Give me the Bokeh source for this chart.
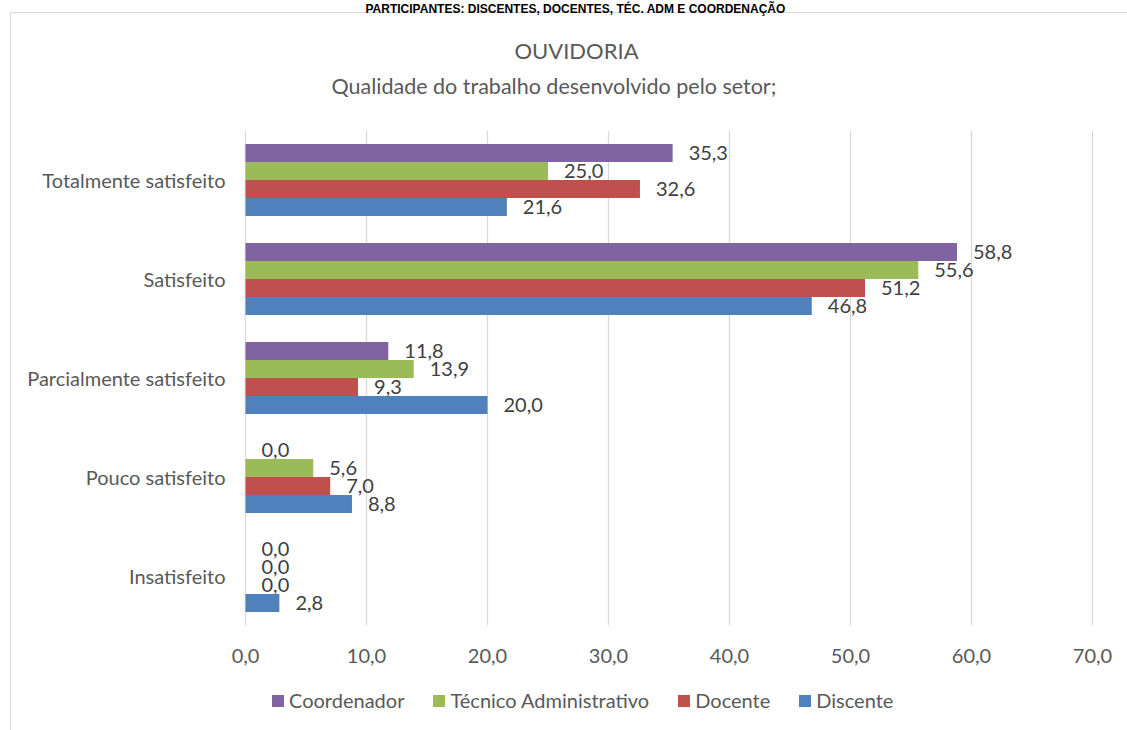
from bokeh.plotting import figure
from bokeh.models import (Range1d, Legend, LegendItem, Title, FixedTicker, ColumnDataSource)
from bokeh.core.properties import value
from bokeh.embed import file_html
from bokeh.resources import INLINE

# ---------------- data ----------------
categories = ["Totalmente satisfeito", "Satisfeito", "Parcialmente satisfeito",
              "Pouco satisfeito", "Insatisfeito"]
series = ["Coordenador", "Técnico Administrativo", "Docente", "Discente"]
coordenador = [35.3, 58.8, 11.8, 0.0, 0.0]
tecnico_adm = [25.0, 55.6, 13.9, 5.6, 0.0]
docente = [32.6, 51.2, 9.3, 7.0, 0.0]
discente = [21.6, 46.8, 20.0, 8.8, 2.8]
x_ticks = [0, 10, 20, 30, 40, 50, 60, 70]
x_tick_labels = ["0,0", "10,0", "20,0", "30,0", "40,0", "50,0", "60,0", "70,0"]
top_title = "PARTICIPANTES: DISCENTES, DOCENTES, TÉC. ADM E COORDENAÇÃO"
chart_title = "OUVIDORIA"
chart_subtitle = "Qualidade do trabalho desenvolvido pelo setor;"

# ---------------- style / layout ----------------
colors = ["#8064A2", "#9BBB59", "#C0504D", "#4F81BD"]
offsets = [0.2727, 0.0909, -0.0909, -0.2727]   # dodge of each series inside a group
bar_h = 0.1818
FONT = "Lato"
GRAY = "#595959"

W, H = 1127, 730
AXIS_LEFT = 245              # canvas px of x = 0
FL, FT = 228, 130            # frame left / top (canvas px)
PLOT_BOTTOM = 625            # where the category area ends (canvas px)
X_MAX = 70
PX_X = 847 / X_MAX           # px per x unit
n = len(categories)
PX_Y = (PLOT_BOTTOM - FT) / n
x_start = -(AXIS_LEFT - FL) / PX_X
x_end = (W - AXIS_LEFT) / PX_X
y_start = -(H - PLOT_BOTTOM) / PX_Y   # frame reaches the canvas bottom (room for legend)

p = figure(width=W, height=H,
           x_range=Range1d(x_start, x_end), y_range=Range1d(y_start, n),
           output_backend="svg", toolbar_location=None,
           min_border_left=FL, min_border_right=0,
           min_border_top=FT, min_border_bottom=0)
p.margin = (0, 0, 0, 0)
p.outline_line_color = None
p.background_fill_color = None
p.border_fill_color = None
p.styles = {"box-shadow": "inset 10px 12px 0 0 white, inset 11px 13px 0 0 #D9D9D9",
            "background-color": "white"}
p.xgrid.grid_line_color = None
p.ygrid.grid_line_color = None

cat_pos = [n - i - 0.5 for i in range(n)]

# x axis sits at the bottom of the category area
p.xaxis.fixed_location = 0
p.xaxis.ticker = FixedTicker(ticks=x_ticks)
p.xaxis.major_label_overrides = {t: l for t, l in zip(x_ticks, x_tick_labels)}
p.yaxis.ticker = FixedTicker(ticks=cat_pos)
p.yaxis.major_label_overrides = {c: name for c, name in zip(cat_pos, categories)}
for ax in (p.xaxis[0], p.yaxis[0]):
    ax.axis_line_color = None
    ax.major_tick_line_color = None
    ax.minor_tick_line_color = None
    ax.major_tick_out = 0
    ax.major_tick_in = 0
    ax.major_label_text_font = FONT
    ax.major_label_text_font_size = "20px"
    ax.major_label_text_color = GRAY
p.xaxis.major_label_standoff = 23
p.yaxis.major_label_standoff = 3

# vertical grid lines over the category area only
p.segment(x0=x_ticks, y0=[0] * len(x_ticks), x1=x_ticks, y1=[n] * len(x_ticks),
          line_color="#D9D9D9", line_width=1.3)

def fmt(v):
    return f"{v:.1f}".replace(".", ",")

items = []
for name, vals, col, off in zip(series, [coordenador, tecnico_adm, docente, discente], colors, offsets):
    src = ColumnDataSource(dict(y=[c + off for c in cat_pos], val=vals,
                                lab=[fmt(v) for v in vals]))
    r = p.hbar(y="y", left=0, right="val", height=bar_h, source=src,
               fill_color=col, line_color=None)
    p.text(x="val", y="y", text="lab", source=src,
           x_offset=16, text_align="left", text_baseline="middle",
           text_font=value(FONT), text_font_size="20px", text_color="#404040")
    items.append(LegendItem(label=name, renderers=[r]))

legend = Legend(items=items, orientation="horizontal", location=(270 - FL, 18),
                glyph_width=15, glyph_height=15, label_standoff=4, spacing=27,
                padding=0, margin=0, border_line_color=None, background_fill_alpha=0,
                label_text_font=FONT, label_text_font_size="20px",
                label_text_color=GRAY)
p.add_layout(legend, "center")

# titles: first added sits closest to the plot frame (offsets measured from frame left)
def spacer(s):
    return Title(text=" ", text_font_size="1px", standoff=s)

dx = AXIS_LEFT - FL
p.add_layout(spacer(29), "above")
p.add_layout(Title(text=chart_subtitle, align="left", offset=86 + dx, standoff=0,
                   text_font=FONT, text_font_size="21.5px", text_font_style="normal",
                   text_color=GRAY), "above")
p.add_layout(Title(text=chart_title, align="left", offset=269 + dx, standoff=14,
                   text_font=FONT, text_font_size="22px", text_font_style="normal",
                   text_color=GRAY), "above")
p.add_layout(spacer(7), "above")
p.add_layout(Title(text=top_title, align="left", offset=120 + dx, standoff=0,
                   vertical_align="top",
                   text_font="Liberation Sans", text_font_size="12px",
                   text_font_style="bold", text_color="black"), "above")

open("out.html", "w").write(file_html(p, INLINE))
